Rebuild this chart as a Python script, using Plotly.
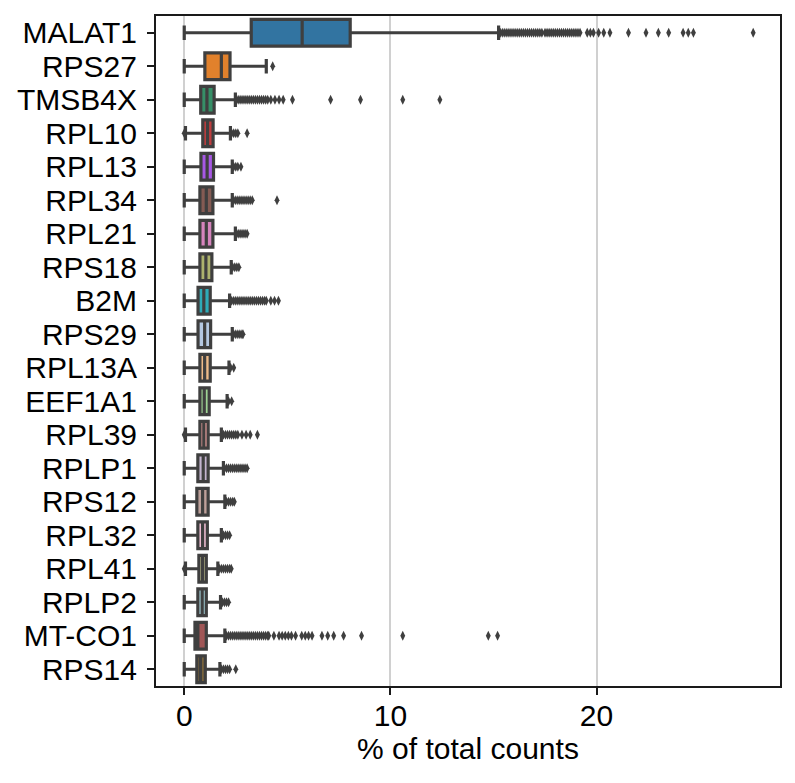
import colorsys
import plotly.graph_objects as go

genes = ["MALAT1", "RPS27", "TMSB4X", "RPL10", "RPL13", "RPL34", "RPL21", "RPS18", "B2M", "RPS29",
         "RPL13A", "EEF1A1", "RPL39", "RPLP1", "RPS12", "RPL32", "RPL41", "RPLP2", "MT-CO1", "RPS14"]

lower_fence = [0.0, 0.0, 0.0, 0.06, 0.0, 0.0, 0.0, 0.0, 0.0, 0.0,
               0.0, 0.0, 0.06, 0.0, 0.0, 0.0, 0.06, 0.0, 0.0, 0.0]
q1 = [3.25, 1.0, 0.8, 0.9, 0.81, 0.76, 0.76, 0.76, 0.67, 0.67,
      0.76, 0.76, 0.76, 0.66, 0.61, 0.66, 0.71, 0.66, 0.52, 0.61]
median = [5.72, 1.8, 1.1, 1.13, 1.11, 1.07, 1.07, 1.05, 0.95, 0.99,
          0.99, 0.97, 0.95, 0.92, 0.89, 0.89, 0.89, 0.87, 0.66, 0.79]
q3 = [8.05, 2.22, 1.45, 1.4, 1.42, 1.39, 1.39, 1.34, 1.26, 1.28,
      1.26, 1.21, 1.16, 1.16, 1.16, 1.12, 1.07, 1.07, 1.07, 1.02]
upper_fence = [15.25, 3.98, 2.48, 2.24, 2.33, 2.33, 2.48, 2.28, 2.2, 2.33,
               2.17, 2.08, 1.8, 1.9, 1.97, 1.8, 1.63, 1.76, 1.97, 1.73]

MALAT1_out = [15.35, 15.45, 15.55, 15.65, 15.75, 15.85, 15.95, 16.05, 16.15, 16.25, 16.35, 16.45,
              16.55, 16.65, 16.75, 16.85, 16.95, 17.05, 17.15, 17.25, 17.35, 17.5, 17.6, 17.7,
              17.8, 17.9, 18.0, 18.1, 18.2, 18.3, 18.4, 18.5, 18.6, 18.7, 18.8, 18.9, 19.0, 19.1,
              19.2, 19.55, 19.7, 19.85, 20.1, 20.35, 20.65, 21.55, 22.4, 23.0, 23.5, 24.2, 24.45,
              24.7, 27.6]
RPS27_out = [4.29]
TMSB4X_out = [2.55, 2.65, 2.75, 2.85, 2.95, 3.05, 3.15, 3.25, 3.35, 3.45, 3.55, 3.65, 3.75, 3.85,
              3.95, 4.05, 4.2, 4.4, 4.6, 4.8, 5.25, 7.1, 8.55, 10.6, 12.4]
RPL10_out = [0.0, 2.3, 2.4, 2.5, 2.6, 3.05]
RPL13_out = [2.4, 2.5, 2.6, 2.75]
RPL34_out = [2.4, 2.5, 2.6, 2.7, 2.8, 2.9, 3.0, 3.1, 3.2, 3.3, 4.5]
RPL21_out = [2.55, 2.65, 2.75, 2.85, 2.95, 3.05]
RPS18_out = [2.35, 2.45, 2.55, 2.65]
B2M_out = [2.3, 2.4, 2.5, 2.6, 2.7, 2.8, 2.9, 3.0, 3.1, 3.2, 3.3, 3.4, 3.5, 3.6, 3.7, 3.8, 3.9,
           3.98, 4.2, 4.38, 4.57]
RPS29_out = [2.4, 2.5, 2.6, 2.7, 2.8, 2.85]
RPL13A_out = [2.25, 2.4]
EEF1A1_out = [2.15, 2.3]
RPL39_out = [0.0, 1.9, 2.0, 2.1, 2.2, 2.3, 2.4, 2.5, 2.6, 2.8, 3.0, 3.2, 3.55]
RPLP1_out = [1.95, 2.05, 2.15, 2.25, 2.35, 2.45, 2.55, 2.65, 2.75, 2.85, 2.95, 3.05]
RPS12_out = [2.05, 2.15, 2.25, 2.35, 2.43]
RPL32_out = [1.9, 2.0, 2.1, 2.2]
RPL41_out = [0.0, 1.7, 1.8, 1.9, 2.0, 2.1, 2.2, 2.28]
RPLP2_out = [1.85, 1.95, 2.05, 2.15]
MTCO1_out = [2.05, 2.15, 2.25, 2.35, 2.45, 2.55, 2.65, 2.75, 2.85, 2.95, 3.05, 3.15, 3.25, 3.35,
             3.45, 3.55, 3.65, 3.75, 3.85, 3.95, 4.05, 4.1, 4.35, 4.6, 4.75, 4.9, 5.05, 5.2, 5.4,
             5.7, 5.87, 6.03, 6.2, 6.68, 6.96, 7.25, 7.73, 8.6, 10.6, 14.75, 15.2]
RPS14_out = [1.8, 1.9, 2.0, 2.1, 2.2, 2.5]

outliers = [MALAT1_out, RPS27_out, TMSB4X_out, RPL10_out, RPL13_out, RPL34_out, RPL21_out,
            RPS18_out, B2M_out, RPS29_out, RPL13A_out, EEF1A1_out, RPL39_out, RPLP1_out,
            RPS12_out, RPL32_out, RPL41_out, RPLP2_out, MTCO1_out, RPS14_out]

base_colors = ['#1f77b4', '#ff7f0e', '#279e68', '#d62728', '#aa40fc', '#8c564b', '#e377c2',
               '#b5bd61', '#17becf', '#aec7e8', '#ffbb78', '#98df8a', '#ff9896', '#c5b0d5',
               '#c49c94', '#f7b6d2', '#dbdb8d', '#9edae5', '#ad494a', '#8c6d31']


def desat(hexc, prop=0.75):
    r, g, b = (int(hexc[i:i + 2], 16) / 255 for i in (1, 3, 5))
    h, l, s = colorsys.rgb_to_hls(r, g, b)
    r, g, b = colorsys.hls_to_rgb(h, l, s * prop)
    return "#%02x%02x%02x" % (round(r * 255), round(g * 255), round(b * 255))


LINE = "#3f3f3f"
FONT = "Liberation Sans, Arial, sans-serif"
FS = 30

fig = go.Figure()
for i, g in enumerate(genes):
    fig.add_trace(go.Box(
        y=[g], q1=[q1[i]], median=[median[i]], q3=[q3[i]],
        lowerfence=[lower_fence[i]], upperfence=[upper_fence[i]],
        orientation="h", width=0.8, whiskerwidth=0.55,
        fillcolor=desat(base_colors[i]), line=dict(color=LINE, width=3.2),
        boxpoints=False, showlegend=False, hoverinfo="skip"))

ox, oy = [], []
for g, vals in zip(genes, outliers):
    ox.extend(vals)
    oy.extend([g] * len(vals))
fig.add_trace(go.Scatter(x=ox, y=oy, mode="markers", showlegend=False,
                         marker=dict(symbol="diamond-tall", size=7, color=LINE,
                                     line=dict(width=0))))

fig.update_layout(
    width=795, height=783, autosize=False,
    margin=dict(l=156, r=15, t=16, b=97),
    paper_bgcolor="white", plot_bgcolor="white",
    font=dict(family=FONT, size=FS, color="black"),
    boxmode="overlay",
)
fig.update_xaxes(range=[-1.37, 28.9], tickvals=[0, 10, 20], ticktext=["0", "10", "20"],
                 showgrid=True, gridcolor="#d0d0d0", gridwidth=1.6, zeroline=False,
                 showline=True, mirror=True, linecolor="#1a1a1a", linewidth=2,
                 ticks="outside", ticklen=7, tickwidth=2, tickcolor="#1a1a1a",
                 tickfont=dict(size=FS, color="black"), ticklabelstandoff=-5,
                 title=dict(text="% of total counts", font=dict(size=FS, color="black"), standoff=6))
fig.update_yaxes(type="category", categoryorder="array", categoryarray=genes,
                 tickmode="array", tickvals=genes, ticktext=genes,
                 range=[19.5, -0.5], showgrid=False, zeroline=False,
                 showline=True, mirror=True, linecolor="#1a1a1a", linewidth=2,
                 ticks="outside", ticklen=7, tickwidth=2, tickcolor="#1a1a1a",
                 tickfont=dict(size=FS, color="black"), ticklabelstandoff=4)

fig.write_html("out.html")
